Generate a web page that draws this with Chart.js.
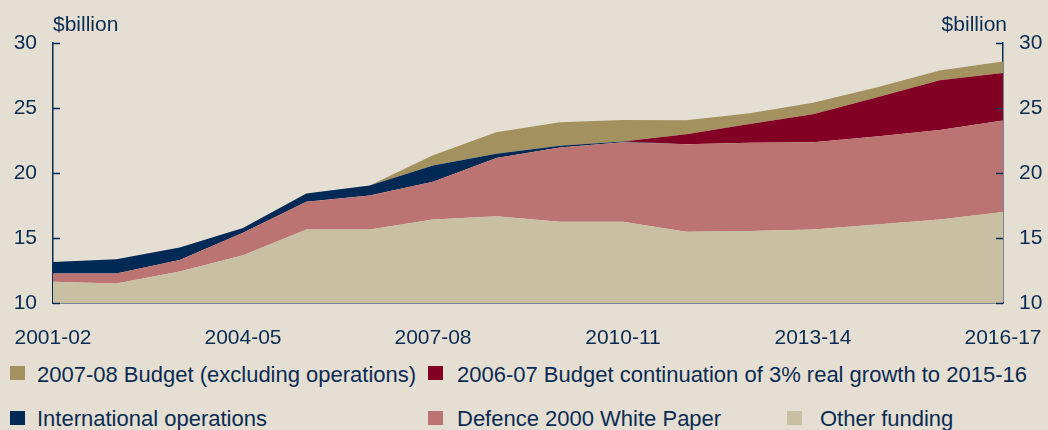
<!DOCTYPE html>
<html>
<head>
<meta charset="utf-8">
<script src="https://cdn.jsdelivr.net/npm/chart.js@4/dist/chart.umd.min.js"></script>
<style>
  html, body { margin: 0; padding: 0; background: #e4dfd2; }
  body { width: 1048px; height: 430px; position: relative; overflow: hidden;
         font-family: "Liberation Sans", Arial, sans-serif; color: #0b2b52; }
  #wrap { position: absolute; left: 0; top: 0; width: 1048px; height: 352px; }
  .leg { position: absolute; font-size: 22px; line-height: 22px; white-space: nowrap; }
  .leg i { position: absolute; left: 0; width: 15px; height: 14px; }
  .leg span { position: absolute; top: 0; }
</style>
</head>
<body>
<div id="wrap"><canvas id="chart"></canvas></div>

<div class="leg" style="left:10px;top:364px"><i style="top:2px;background:#a39160"></i><span style="left:27px">2007-08 Budget (excluding operations)</span></div>
<div class="leg" style="left:428px;top:364px"><i style="top:2px;background:#820024"></i><span style="left:29px">2006-07 Budget continuation of 3% real growth to 2015-16</span></div>
<div class="leg" style="left:10px;top:408px"><i style="top:3px;background:#002a55"></i><span style="left:27px">International operations</span></div>
<div class="leg" style="left:428px;top:408px"><i style="top:3px;background:#bc7473"></i><span style="left:29px">Defence 2000 White Paper</span></div>
<div class="leg" style="left:787px;top:408px"><i style="top:3px;background:#c9bfa3"></i><span style="left:33px">Other funding</span></div>

<script>
// ── data (stack order: bottom → top) ──
var years = ['2001-02', '2002-03', '2003-04', '2004-05', '2005-06', '2006-07', '2007-08', '2008-09',
             '2009-10', '2010-11', '2011-12', '2012-13', '2013-14', '2014-15', '2015-16', '2016-17'];
var otherFunding = [11.63, 11.5, 12.42, 13.67, 15.66, 15.66, 16.43, 16.68, 16.25, 16.25, 15.48, 15.53, 15.66, 16.04, 16.43, 17.0];
var whitePaper = [0.64, 0.77, 0.89, 1.74, 2.12, 2.6, 2.9, 4.47, 5.71, 6.12, 6.74, 6.79, 6.71, 6.76, 6.88, 7.03];
var intlOps = [0.89, 1.1, 0.95, 0.35, 0.64, 0.77, 1.25, 0.33, 0.13, 0.05, 0, 0, 0, 0, 0, 0];
var continuation = [0, 0, 0, 0, 0, 0, 0, 0, 0, 0, 0.76, 1.45, 2.14, 3.01, 3.83, 3.67];
var budget0708 = [0, 0, 0, 0, 0, 0, 0.79, 1.65, 1.81, 1.66, 1.07, 0.82, 0.89, 0.77, 0.74, 0.87];
var yTicks = [10, 15, 20, 25, 30];
var shownYears = ['2001-02', '2004-05', '2007-08', '2010-11', '2013-14', '2016-17'];

var navy = '#0b2b52';
var axisFont = { family: '"Liberation Sans", Arial, sans-serif', size: 21 };

function area(label, data, color, fill) {
  return {
    label: label, data: data, backgroundColor: color, borderColor: color,
    borderWidth: 0, pointRadius: 0, tension: 0, fill: fill,
  };
}

// inward tick marks + "$billion" labels
var decor = {
  id: 'decor',
  afterDraw: function (chart) {
    var ctx = chart.ctx, a = chart.chartArea, y = chart.scales.y;
    ctx.save();
    ctx.strokeStyle = navy;
    ctx.lineWidth = 1.5;
    yTicks.forEach(function (v) {
      var py = Math.round(y.getPixelForValue(v)) + 0.5;
      ctx.beginPath();
      ctx.moveTo(a.left, py); ctx.lineTo(a.left + 7, py);
      ctx.moveTo(a.right, py); ctx.lineTo(a.right - 7, py);
      ctx.stroke();
    });
    ctx.fillStyle = navy;
    ctx.font = '21px "Liberation Sans", Arial, sans-serif';
    ctx.textBaseline = 'alphabetic';
    ctx.textAlign = 'left';
    ctx.fillText('$billion', a.left, 31);
    ctx.textAlign = 'right';
    ctx.fillText('$billion', a.right + 4, 31);
    ctx.restore();
  },
};

new Chart(document.getElementById('chart'), {
  type: 'line',
  data: {
    labels: years,
    datasets: [
      area('Other funding', otherFunding, '#c9bfa3', 'start'),
      area('Defence 2000 White Paper', whitePaper, '#bc7473', '-1'),
      area('International operations', intlOps, '#002a55', '-1'),
      area('2006-07 Budget continuation of 3% real growth to 2015-16', continuation, '#820024', '-1'),
      area('2007-08 Budget (excluding operations)', budget0708, '#a39160', '-1'),
    ],
  },
  options: {
    responsive: true, maintainAspectRatio: false, animation: false,
    layout: { padding: { top: 43, left: 0, right: 0, bottom: 0 } },
    plugins: { legend: { display: false }, tooltip: { enabled: false } },
    scales: {
      x: {
        offset: false,
        grid: { display: false },
        border: { color: navy, width: 1.5 },
        ticks: {
          color: navy, font: axisFont, autoSkip: false, maxRotation: 0, padding: 15,
          callback: function (v, i) { return shownYears.indexOf(years[i]) >= 0 ? years[i] : ''; },
        },
        afterFit: function (s) { s.height = 49; s.paddingLeft = 0; s.paddingRight = 0; },
      },
      y: {
        stacked: true, min: 10, max: 30, position: 'left',
        grid: { display: false },
        border: { color: navy, width: 1.5 },
        ticks: { color: navy, font: axisFont, stepSize: 5, padding: 8 },
        afterFit: function (s) { s.width = 53; s.paddingTop = 0; s.paddingBottom = 0; },
      },
      y2: {
        min: 10, max: 30, position: 'right',
        grid: { display: false },
        border: { color: navy, width: 1.5 },
        ticks: { color: navy, font: axisFont, stepSize: 5, padding: 8 },
        afterFit: function (s) { s.width = 45; s.paddingTop = 0; s.paddingBottom = 0; },
      },
    },
  },
  plugins: [decor],
});
</script>
</body>
</html>
